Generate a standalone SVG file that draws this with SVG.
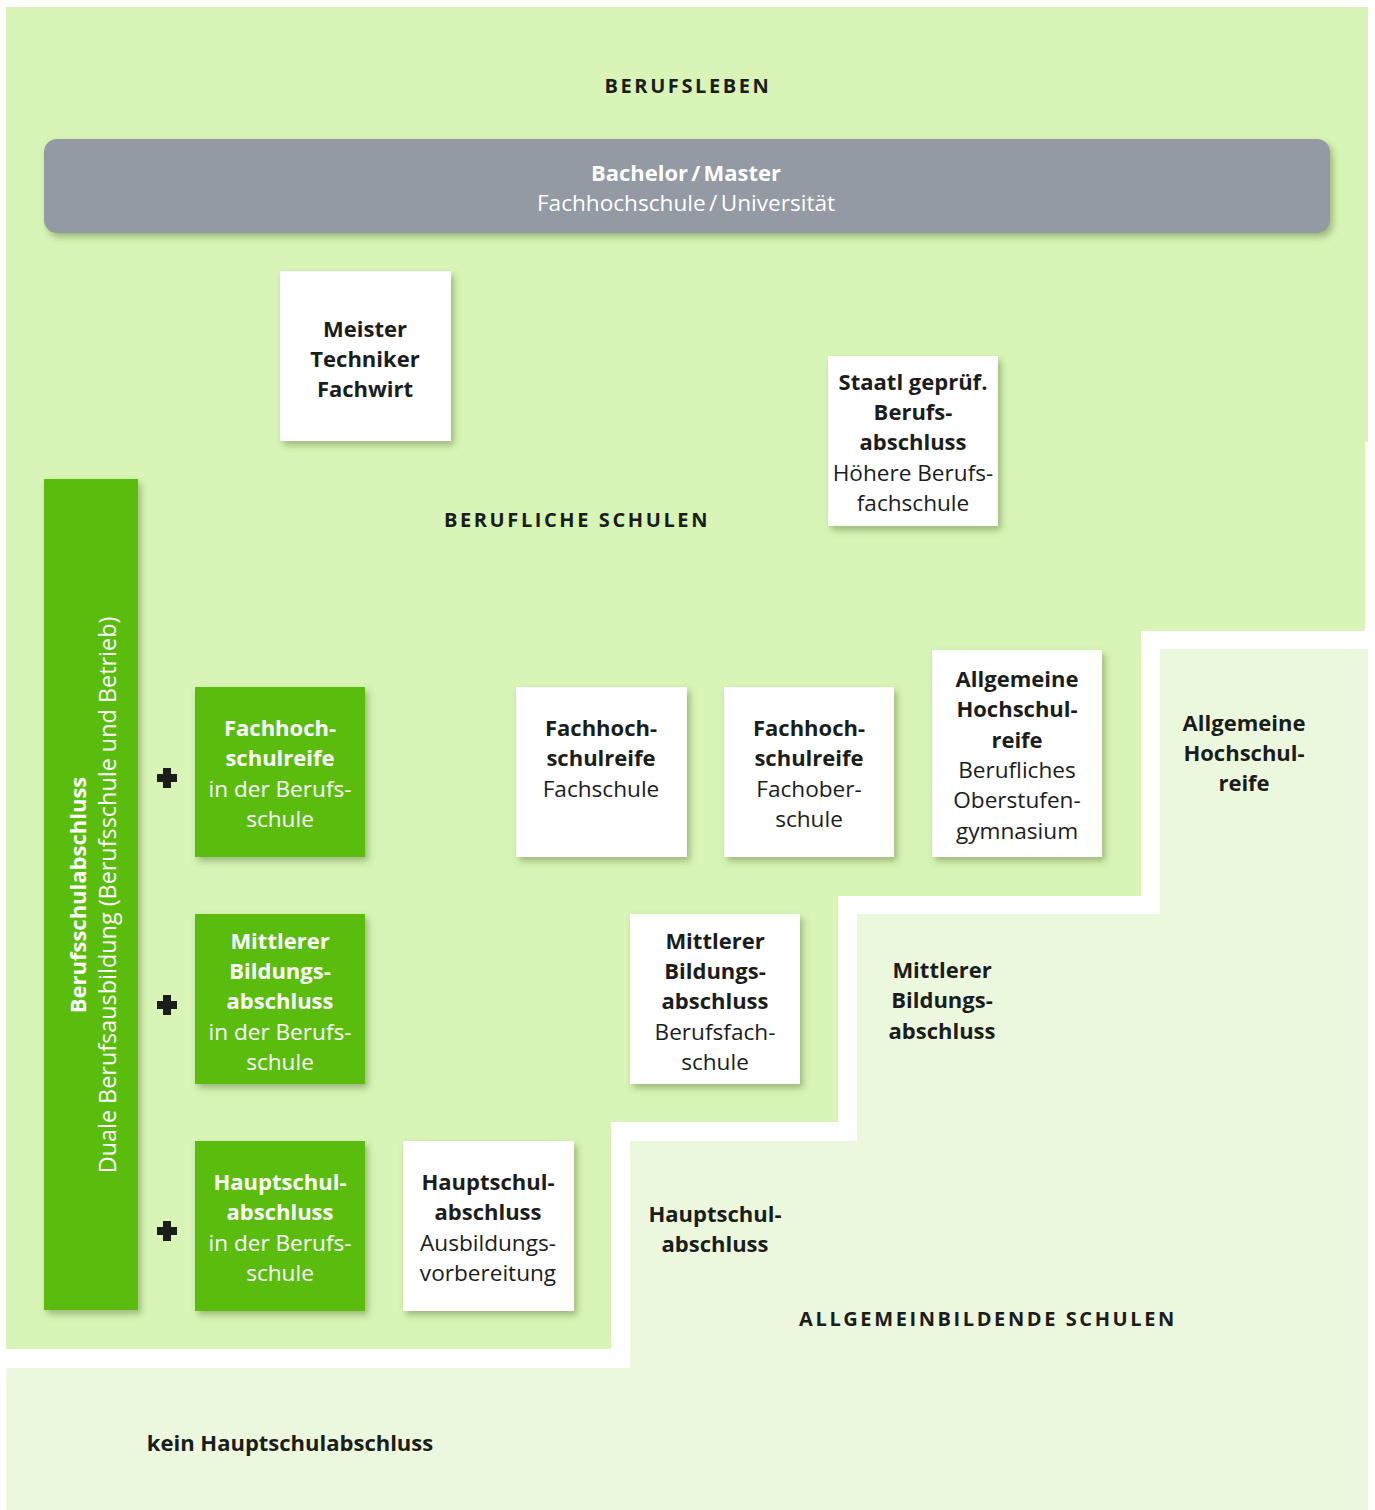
<svg xmlns="http://www.w3.org/2000/svg" width="1375" height="1510" viewBox="0 0 1375 1510">
<defs>
<filter id="sh" x="-20%" y="-20%" width="150%" height="150%">
<feDropShadow dx="3" dy="4" stdDeviation="3.5" flood-color="#4d6b2a" flood-opacity="0.45"/>
</filter>
<style>
text{font-family:"Open Sans","Noto Sans","Liberation Sans",sans-serif;font-size:22px;text-anchor:middle;fill:#1b1d1b}
.b{font-weight:700}
.r{font-weight:400;font-size:22.6px}
.w{fill:#ffffff}
.h{font-weight:700;font-size:20px;letter-spacing:2.6px}
.white{fill:#ffffff}
.green{fill:#5abd0c}
</style>
</defs>
<rect width="1375" height="1510" fill="#ffffff"/>
<g id="bands">
<path d="M6,7 H1368 V442 H1365 V631 H1141 V896 H838 V1122 H611 V1349 H6 Z" fill="#d8f5b7"/>
<path d="M1160,649 H1368 V1510 H6 V1368 H630 V1141 H857 V914 H1160 Z" fill="#ecf8de"/>
</g>
<g id="headings">
<text class="h" x="688" y="93">BERUFSLEBEN</text>
<text class="h" x="577" y="527">BERUFLICHE SCHULEN</text>
<text class="h" x="988" y="1326">ALLGEMEINBILDENDE SCHULEN</text>
</g>
<g id="bachelor">
<rect x="44" y="139" width="1286" height="94" rx="13" fill="#939aa3" filter="url(#sh)"/>
<text class="b w" x="686" y="181" word-spacing="-2.5">Bachelor / Master</text>
<text class="r w" x="686" y="211" word-spacing="-2.5">Fachhochschule / Universität</text>
</g>
<g id="meister">
<rect class="white" x="280" y="271" width="171" height="170" filter="url(#sh)"/>
<text class="b" x="365" y="337">Meister</text>
<text class="b" x="365" y="367">Techniker</text>
<text class="b" x="365" y="397">Fachwirt</text>
</g>
<g id="staatl">
<rect class="white" x="828" y="356" width="170" height="170" filter="url(#sh)"/>
<text class="b" x="913" y="390">Staatl geprüf.</text>
<text class="b" x="913" y="420">Berufs-</text>
<text class="b" x="913" y="450">abschluss</text>
<text class="r" x="913" y="481">Höhere Berufs-</text>
<text class="r" x="913" y="511">fachschule</text>
</g>
<g id="duale">
<rect class="green" x="44" y="479" width="94" height="831" filter="url(#sh)"/>
<text class="b w" transform="translate(86,895) rotate(-90)">Berufsschulabschluss</text>
<text class="r w" style="font-size:23.4px" transform="translate(116,895) rotate(-90)">Duale Berufsausbildung (Berufsschule und Betrieb)</text>
</g>
<g id="plus">
<path d="M163,768 h8 v6 h6 v8 h-6 v6 h-8 v-6 h-6 v-8 h6 Z" fill="#1b1d1b"/>
<path d="M163,995 h8 v6 h6 v8 h-6 v6 h-8 v-6 h-6 v-8 h6 Z" fill="#1b1d1b"/>
<path d="M163,1221 h8 v6 h6 v8 h-6 v6 h-8 v-6 h-6 v-8 h6 Z" fill="#1b1d1b"/>
</g>
<g id="fhr-bs">
<rect class="green" x="195" y="687" width="170" height="170" filter="url(#sh)"/>
<text class="b w" x="280" y="736">Fachhoch-</text>
<text class="b w" x="280" y="766">schulreife</text>
<text class="r w" x="280" y="797">in der Berufs-</text>
<text class="r w" x="280" y="827">schule</text>
</g>
<g id="mba-bs">
<rect class="green" x="195" y="914" width="170" height="170" filter="url(#sh)"/>
<text class="b w" x="280" y="949">Mittlerer</text>
<text class="b w" x="280" y="979">Bildungs-</text>
<text class="b w" x="280" y="1009">abschluss</text>
<text class="r w" x="280" y="1040">in der Berufs-</text>
<text class="r w" x="280" y="1070">schule</text>
</g>
<g id="hsa-bs">
<rect class="green" x="195" y="1141" width="170" height="170" filter="url(#sh)"/>
<text class="b w" x="280" y="1190">Hauptschul-</text>
<text class="b w" x="280" y="1220">abschluss</text>
<text class="r w" x="280" y="1251">in der Berufs-</text>
<text class="r w" x="280" y="1281">schule</text>
</g>
<g id="fhr-fs">
<rect class="white" x="516" y="687" width="171" height="170" filter="url(#sh)"/>
<text class="b" x="601" y="736">Fachhoch-</text>
<text class="b" x="601" y="766">schulreife</text>
<text class="r" x="601" y="797">Fachschule</text>
</g>
<g id="fhr-fos">
<rect class="white" x="724" y="687" width="170" height="170" filter="url(#sh)"/>
<text class="b" x="809" y="736">Fachhoch-</text>
<text class="b" x="809" y="766">schulreife</text>
<text class="r" x="809" y="797">Fachober-</text>
<text class="r" x="809" y="827">schule</text>
</g>
<g id="ahr-bg">
<rect class="white" x="932" y="650" width="170" height="207" filter="url(#sh)"/>
<text class="b" x="1017" y="687">Allgemeine</text>
<text class="b" x="1017" y="717">Hochschul-</text>
<text class="b" x="1017" y="748">reife</text>
<text class="r" x="1017" y="778">Berufliches</text>
<text class="r" x="1017" y="808">Oberstufen-</text>
<text class="r" x="1017" y="839">gymnasium</text>
</g>
<g id="mba-bfs">
<rect class="white" x="630" y="914" width="170" height="170" filter="url(#sh)"/>
<text class="b" x="715" y="949">Mittlerer</text>
<text class="b" x="715" y="979">Bildungs-</text>
<text class="b" x="715" y="1009">abschluss</text>
<text class="r" x="715" y="1040">Berufsfach-</text>
<text class="r" x="715" y="1070">schule</text>
</g>
<g id="hsa-av">
<rect class="white" x="403" y="1141" width="171" height="170" filter="url(#sh)"/>
<text class="b" x="488" y="1190">Hauptschul-</text>
<text class="b" x="488" y="1220">abschluss</text>
<text class="r" x="488" y="1251">Ausbildungs-</text>
<text class="r" x="488" y="1281">vorbereitung</text>
</g>
<g id="ahr">
<text class="b" x="1244" y="731">Allgemeine</text>
<text class="b" x="1244" y="761">Hochschul-</text>
<text class="b" x="1244" y="791">reife</text>
</g>
<g id="mba">
<text class="b" x="942" y="978">Mittlerer</text>
<text class="b" x="942" y="1008">Bildungs-</text>
<text class="b" x="942" y="1039">abschluss</text>
</g>
<g id="hsa">
<text class="b" x="715" y="1222">Hauptschul-</text>
<text class="b" x="715" y="1252">abschluss</text>
</g>
<g id="kein">
<text class="b" x="290" y="1451">kein Hauptschulabschluss</text>
</g>
<g id="connectors"></g>
</svg>
